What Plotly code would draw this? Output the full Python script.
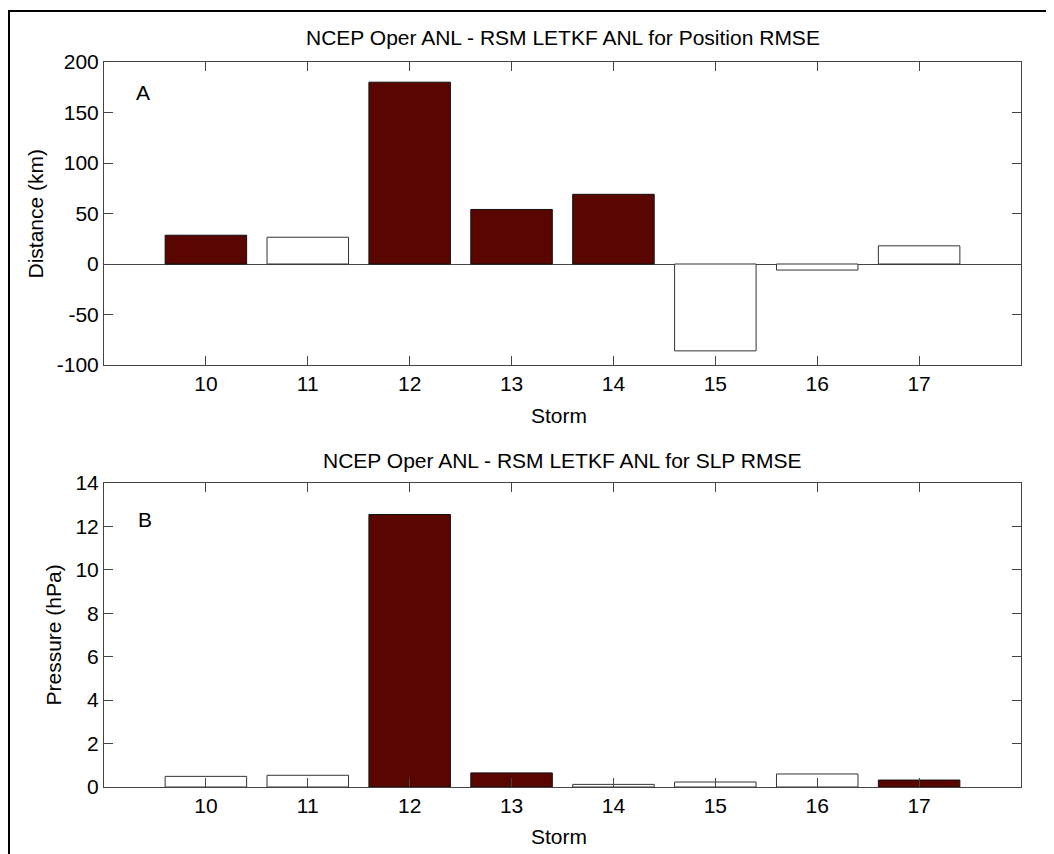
import plotly.graph_objects as go

storms = [10, 11, 12, 13, 14, 15, 16, 17]
position_rmse_diff = [28.5, 26.5, 180, 54, 69, -86, -6, 18]
slp_rmse_diff = [0.49, 0.54, 12.55, 0.65, 0.12, 0.23, 0.60, 0.32]
position_filled = [True, False, True, True, True, False, False, False]
slp_filled = [False, False, True, True, False, False, False, True]
pos_ticks = [-100, -50, 0, 50, 100, 150, 200]
slp_ticks = [0, 2, 4, 6, 8, 10, 12, 14]

title_a = "NCEP Oper ANL - RSM LETKF ANL for Position RMSE"
title_b = "NCEP Oper ANL - RSM LETKF ANL for SLP RMSE"

DARK = "#5a0600"
FONT = "Liberation Sans, Arial, sans-serif"
FS = 21

def fills(flags):
    return [DARK if f else "white" for f in flags]

def lines(flags):
    return ["#111111" if f else "#333333" for f in flags]

fig = go.Figure()
fig.add_trace(go.Bar(x=storms, y=position_rmse_diff, width=0.8,
                     marker=dict(color=fills(position_filled),
                                 line=dict(color=lines(position_filled), width=1)),
                     xaxis="x", yaxis="y", showlegend=False))
fig.add_trace(go.Bar(x=storms, y=slp_rmse_diff, width=0.8,
                     marker=dict(color=fills(slp_filled),
                                 line=dict(color=lines(slp_filled), width=1)),
                     xaxis="x2", yaxis="y2", showlegend=False))

# page body has an 8px margin: work in reference pixel coordinates offset by 8
OFF = 8
W, H = 1054 - OFF, 854 - OFF
L, R, T, B = 104 - OFF, 33, 62 - OFF, 67
ph = H - T - B  # 725
pw = W - L - R  # 917

def py(pix):
    return (854 - B - pix) / ph

def px(pix):
    return (pix - 104) / pw

axis_common = dict(showline=True, linecolor="#444444", linewidth=1, mirror="ticks",
                   ticks="inside", ticklen=9, tickcolor="#444444", tickwidth=1,
                   showgrid=False, tickfont=dict(family=FONT, size=FS, color="black"))

fig.update_layout(
    width=W, height=H,
    margin=dict(l=L, r=R, t=T, b=B),
    paper_bgcolor="white", plot_bgcolor="white",
    font=dict(family=FONT, size=FS, color="black"),
    xaxis=dict(domain=[0, 1], anchor="y", range=[9, 18], tickmode="array",
               tickvals=storms, ticktext=[str(s) for s in storms], zeroline=False,
               **axis_common),
    yaxis=dict(domain=[py(365), 1], anchor="x", range=[-100, 200], tickmode="array",
               tickvals=pos_ticks, ticktext=[str(v) for v in pos_ticks], zeroline=True,
               zerolinecolor="#444444", zerolinewidth=1, **axis_common),
    xaxis2=dict(domain=[0, 1], anchor="y2", range=[9, 18], tickmode="array",
                tickvals=storms, ticktext=[str(s) for s in storms], zeroline=False,
                **axis_common),
    yaxis2=dict(domain=[0, py(483)], anchor="x2", range=[0, 14], tickmode="array",
                tickvals=slp_ticks, ticktext=[str(v) for v in slp_ticks], zeroline=False,
                **axis_common),
    bargap=0.2,
)

ann = []
ann.append(dict(text=title_a, x=0.5, y=py(38), xref="paper", yref="paper",
                showarrow=False, xanchor="center", yanchor="middle", font=dict(size=FS)))
ann.append(dict(text=title_b, x=0.5, y=py(460), xref="paper", yref="paper",
                showarrow=False, xanchor="center", yanchor="middle", font=dict(size=FS)))
ann.append(dict(text="Storm", x=px(559), y=py(415), xref="paper", yref="paper",
                showarrow=False, xanchor="center", yanchor="middle", font=dict(size=FS)))
ann.append(dict(text="Storm", x=px(559), y=py(837), xref="paper", yref="paper",
                showarrow=False, xanchor="center", yanchor="middle", font=dict(size=FS)))
ann.append(dict(text="Distance (km)", x=px(35), y=py(213.5), xref="paper", yref="paper",
                showarrow=False, xanchor="center", yanchor="middle", textangle=-90,
                font=dict(size=FS)))
ann.append(dict(text="Pressure (hPa)", x=px(52.5), y=py(635), xref="paper", yref="paper",
                showarrow=False, xanchor="center", yanchor="middle", textangle=-90,
                font=dict(size=FS)))
ann.append(dict(text="A", x=9.383, y=170, xref="x", yref="y", showarrow=False,
                xanchor="center", yanchor="middle", font=dict(size=FS)))
ann.append(dict(text="B", x=9.40, y=12.31, xref="x2", yref="y2", showarrow=False,
                xanchor="center", yanchor="middle", font=dict(size=FS)))
fig.update_layout(annotations=ann)

fig.add_shape(type="rect", xref="paper", yref="paper",
              x0=px(9), x1=px(1070), y0=py(870), y1=py(11),
              line=dict(color="black", width=2), fillcolor="rgba(0,0,0,0)")

fig.write_html("out.html")
